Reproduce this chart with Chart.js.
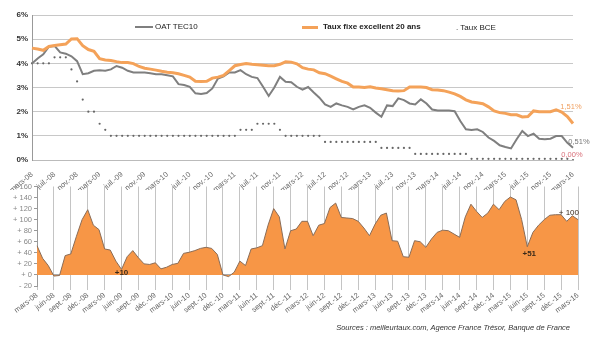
<!DOCTYPE html>
<html>
<head>
<meta charset="utf-8">
<script src="https://cdn.jsdelivr.net/npm/chart.js@4"></script>
<style>
    body { margin: 0; background: #ffffff; }
    #page { position: relative; width: 590px; height: 339px; font-family: 'Liberation Sans', Arial, sans-serif; }
    canvas { position: absolute; left: 0; }
    .leg { position: absolute; font-size: 8px; line-height: 10px; color: #222; white-space: nowrap; }
    .trait { position: absolute; }
    #sources { position: absolute; right: 20px; top: 323px; font-size: 7.5px; font-style: italic; color: #333; }
</style>
</head>
<body>
<div id="page">
    <canvas id="chartTaux" width="590" height="190" style="top:0"></canvas>
    <canvas id="chartEcart" width="590" height="140" style="top:180px"></canvas>

    <div class="trait" style="left:135px; top:26px; width:18px; height:2px; background:#7f7f7f"></div>
    <div class="leg" style="left:155px; top:22px">OAT TEC10</div>
    <div class="trait" style="left:302px; top:26px; width:16px; height:3px; background:#f4a259"></div>
    <div class="leg" style="left:323px; top:22px; font-weight:bold">Taux fixe excellent 20 ans</div>
    <div class="leg" style="left:456px; top:23px">. Taux BCE</div>

    <div id="sources">Sources : meilleurtaux.com, Agence France Trésor, Banque de France</div>
</div>

<script>
// mois de mars 2008 à mars 2016
const nomsMois = ['janv.', 'févr.', 'mars', 'avr.', 'mai', 'juin', 'juil.', 'août', 'sept.', 'oct.', 'nov.', 'déc.'];
const moisDepart = 2;
const anneeDepart = 2008;
const nbMois = 97;

const mois = [];
for (let i = 0; i < nbMois; i++) {
    const m = (moisDepart + i) % 12;
    const a = anneeDepart + Math.floor((moisDepart + i) / 12);
    mois.push(nomsMois[m] + '-' + String(a).slice(2));
}

// taux en %
const oatTec10 = [
    3.99, 4.20, 4.37, 4.69, 4.72, 4.45, 4.40, 4.29, 4.09, 3.55, 3.59, 3.69,
    3.71, 3.69, 3.75, 3.89, 3.82, 3.69, 3.62, 3.62, 3.62, 3.59, 3.55, 3.55,
    3.51, 3.46, 3.14, 3.10, 3.03, 2.76, 2.73, 2.77, 2.96, 3.37, 3.46, 3.62,
    3.62, 3.72, 3.55, 3.44, 3.39, 3.03, 2.65, 3.00, 3.44, 3.24, 3.22, 3.03,
    2.91, 3.02, 2.79, 2.58, 2.30, 2.20, 2.34, 2.26, 2.20, 2.09, 2.20, 2.26,
    2.16, 1.96, 1.79, 2.26, 2.23, 2.55, 2.48, 2.34, 2.30, 2.51, 2.34, 2.09,
    2.05, 2.05, 2.05, 2.02, 1.61, 1.27, 1.24, 1.27, 1.16, 0.93, 0.79, 0.61,
    0.54, 0.48, 0.86, 1.20, 0.99, 1.09, 0.88, 0.86, 0.88, 0.99, 0.99, 0.71,
    0.51
];

const tauxFixe20ans = [
    4.63, 4.59, 4.54, 4.70, 4.74, 4.77, 4.80, 5.01, 5.02, 4.73, 4.57, 4.50,
    4.19, 4.14, 4.12, 4.07, 4.03, 4.03, 3.99, 3.87, 3.80, 3.76, 3.72, 3.67,
    3.63, 3.61, 3.57, 3.50, 3.43, 3.26, 3.25, 3.26, 3.39, 3.43, 3.50, 3.70,
    3.90, 3.95, 3.99, 3.96, 3.94, 3.92, 3.90, 3.90, 3.96, 4.06, 4.05, 3.98,
    3.82, 3.76, 3.73, 3.61, 3.57, 3.47, 3.36, 3.25, 3.18, 3.02, 3.02, 3.00,
    3.03, 2.98, 2.95, 2.91, 2.87, 2.86, 2.87, 3.02, 3.02, 3.02, 3.00, 2.91,
    2.90, 2.87, 2.81, 2.74, 2.63, 2.49, 2.40, 2.37, 2.33, 2.20, 2.03, 1.96,
    1.93, 1.87, 1.87, 1.78, 1.80, 2.03, 2.00, 2.00, 2.00, 2.08, 1.98, 1.80,
    1.51
];

const tauxBce = [
    4.00, 4.00, 4.00, 4.00, 4.25, 4.25, 4.25, 3.75, 3.25, 2.50, 2.00, 2.00,
    1.50, 1.25, 1.00, 1.00, 1.00, 1.00, 1.00, 1.00, 1.00, 1.00, 1.00, 1.00,
    1.00, 1.00, 1.00, 1.00, 1.00, 1.00, 1.00, 1.00, 1.00, 1.00, 1.00, 1.00,
    1.00, 1.25, 1.25, 1.25, 1.50, 1.50, 1.50, 1.50, 1.25, 1.00, 1.00, 1.00,
    1.00, 1.00, 1.00, 1.00, 0.75, 0.75, 0.75, 0.75, 0.75, 0.75, 0.75, 0.75,
    0.75, 0.75, 0.50, 0.50, 0.50, 0.50, 0.50, 0.50, 0.25, 0.25, 0.25, 0.25,
    0.25, 0.25, 0.25, 0.25, 0.25, 0.25, 0.05, 0.05, 0.05, 0.05, 0.05, 0.05,
    0.05, 0.05, 0.05, 0.05, 0.05, 0.05, 0.05, 0.05, 0.05, 0.05, 0.05, 0.05,
    0.00
];

// écart en points de base
const ecart = [
    53, 30, 17, -2, -1, 35, 38, 70, 100, 118, 90, 82,
    47, 45, 25, 10, 33, 44, 31, 20, 19, 22, 11, 14,
    19, 21, 39, 41, 44, 48, 50, 48, 37, 0, -3, 5,
    25, 17, 47, 49, 53, 90, 120, 105, 47, 80, 83, 97,
    97, 71, 90, 93, 122, 130, 104, 103, 102, 97, 85, 71,
    92, 108, 112, 62, 61, 33, 32, 62, 60, 50, 65, 77,
    81, 80, 74, 68, 105, 128, 115, 104, 112, 128, 118, 133,
    141, 136, 100, 51, 77, 90, 100, 108, 109, 109, 97, 107,
    100
];

const ticksTaux = [0, 1, 2, 3, 4, 5, 6];
const ticksEcart = [-20, 0, 20, 40, 60, 80, 100, 120, 140, 160];

const dernier = nbMois - 1;

// petit plugin pour écrire les valeurs à côté des points
const pluginEtiquettes = {
    id: 'etiquettes',
    afterDatasetsDraw(chart, args, opts) {
        const ctx = chart.ctx;
        ctx.save();
        opts.items.forEach(it => {
            const x = chart.scales.x.getPixelForValue(it.index);
            const y = chart.scales.y.getPixelForValue(it.valeur);
            ctx.font = it.font || '7.5px "Liberation Sans", Arial';
            ctx.fillStyle = it.couleur;
            ctx.textAlign = it.align || 'center';
            ctx.textBaseline = 'middle';
            ctx.fillText(it.texte, x + it.dx, y + it.dy);
        });
        ctx.restore();
    }
};

function formatPct(v) {
    return v.toFixed(2).replace('.', ',') + '%';
}

new Chart(document.getElementById('chartTaux'), {
    type: 'line',
    data: {
        labels: mois,
        datasets: [
            { label: 'Taux fixe excellent 20 ans', data: tauxFixe20ans, borderColor: '#f4a259', borderWidth: 3, pointRadius: 0, order: 0 },
            { label: 'OAT TEC10', data: oatTec10, borderColor: '#7f7f7f', borderWidth: 2, pointRadius: 0, order: 1 },
            { label: 'Taux BCE', data: tauxBce, showLine: false, pointRadius: 1.1, pointBackgroundColor: '#666', pointBorderWidth: 0, order: 2 }
        ]
    },
    options: {
        responsive: false,
        animation: false,
        layout: { padding: { left: 0, top: 15, right: 17, bottom: 0 } },
        plugins: {
            legend: { display: false },
            tooltip: { enabled: false },
            etiquettes: {
                items: [
                    { index: dernier, valeur: tauxFixe20ans[dernier], texte: formatPct(tauxFixe20ans[dernier]), couleur: '#f0a060', dx: -2, dy: -17 },
                    { index: dernier, valeur: oatTec10[dernier], texte: formatPct(oatTec10[dernier]), couleur: '#777', dx: 6, dy: -6 },
                    { index: dernier, valeur: tauxBce[dernier], texte: formatPct(tauxBce[dernier]), couleur: '#d9707a', dx: -1, dy: -5 }
                ]
            }
        },
        scales: {
            x: {
                grid: { display: false },
                border: { color: '#bbb' },
                ticks: {
                    autoSkip: false, maxRotation: 40, minRotation: 40, padding: 2,
                    color: '#666', font: { size: 7.5, family: 'Liberation Sans' },
                    callback: function (v, i) { return i % 4 === 0 ? mois[i] : null; }
                },
                afterFit: s => { s.height = 30; }
            },
            y: {
                min: 0, max: 6,
                afterBuildTicks: s => { s.ticks = ticksTaux.map(v => ({ value: v })); },
                grid: { color: '#c8c8c8', drawTicks: false },
                border: { color: '#999' },
                ticks: {
                    autoSkip: false, padding: 4, color: '#333',
                    font: { size: 8, weight: 'bold', family: 'Liberation Sans' },
                    callback: v => v + '%'
                },
                afterFit: s => { s.width = 32; }
            }
        }
    },
    plugins: [pluginEtiquettes]
});

new Chart(document.getElementById('chartEcart'), {
    type: 'line',
    data: {
        labels: mois,
        datasets: [
            { label: 'Ecart', data: ecart, fill: 'origin', backgroundColor: '#f79646', borderColor: '#8a6d58', borderWidth: 1, pointRadius: 0 }
        ]
    },
    options: {
        responsive: false,
        animation: false,
        layout: { padding: { left: 0, top: 6, right: 12, bottom: 0 } },
        plugins: {
            legend: { display: false },
            tooltip: { enabled: false },
            etiquettes: {
                items: [
                    { index: 15, valeur: ecart[15], texte: '+10', couleur: '#3a2a1a', font: 'bold 8px "Liberation Sans"', dx: 0, dy: 3 },
                    { index: 87, valeur: ecart[87], texte: '+51', couleur: '#3a2a1a', font: 'bold 8px "Liberation Sans"', dx: 2, dy: 7 },
                    { index: dernier, valeur: ecart[dernier], texte: '+ 100', couleur: '#3a2a1a', font: '8px "Liberation Sans"', align: 'right', dx: 1, dy: -7 }
                ]
            }
        },
        scales: {
            x: {
                grid: { color: '#c4c4c4', tickLength: 4 },
                border: { display: false },
                ticks: {
                    autoSkip: false, maxRotation: 38, minRotation: 38, padding: 1,
                    color: '#666', font: { size: 7.5, family: 'Liberation Sans' },
                    callback: function (v, i) { return i % 3 === 0 ? mois[i] : null; }
                },
                afterFit: s => { s.height = 34; }
            },
            y: {
                min: -20, max: 160,
                afterBuildTicks: s => { s.ticks = ticksEcart.map(v => ({ value: v })); },
                grid: {
                    color: c => c.tick && c.tick.value === 0 ? '#aaa' : 'rgba(0,0,0,0)',
                    tickColor: '#999', tickLength: 3
                },
                border: { color: '#999' },
                ticks: {
                    autoSkip: false, padding: 2, color: '#888',
                    font: { size: 7.5, family: 'Liberation Sans' },
                    callback: v => (v < 0 ? '- ' + Math.abs(v) : '+ ' + v)
                },
                afterFit: s => { s.width = 37; }
            }
        }
    },
    plugins: [pluginEtiquettes]
});
</script>
</body>
</html>
